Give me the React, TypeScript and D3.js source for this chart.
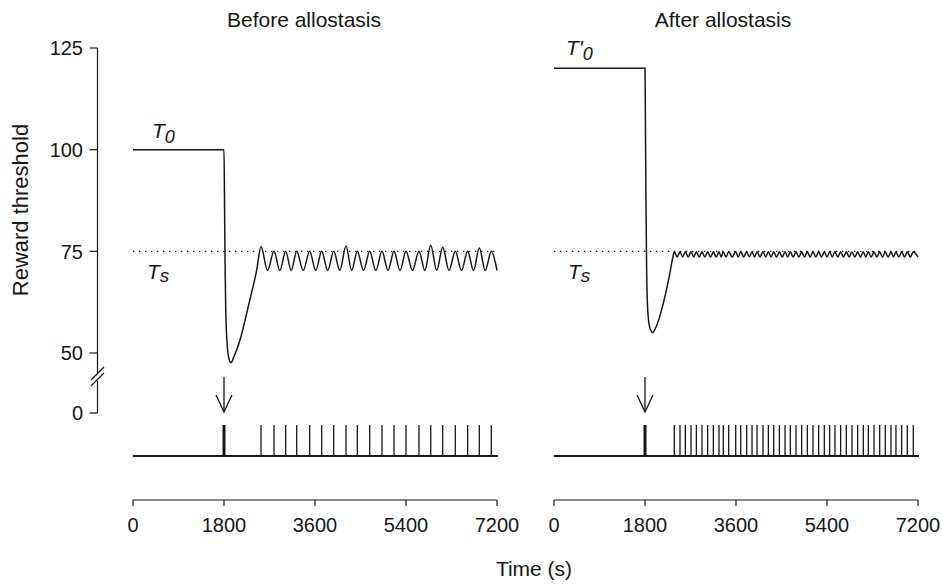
import React from 'react';
import * as d3 from 'd3';

// Reward threshold before / after allostasis
const timeTicks = [0, 1800, 3600, 5400, 7200];
const thresholdTicks = [50, 75, 100, 125];
const setPoint = 75;

// transient part of each curve: [time (s), threshold]
const beforeTransient: [number, number][] = [
  [0, 100], [1800, 100], [1810, 88], [1820, 73], [1834, 61], [1858, 53],
  [1898, 48.6], [1940, 47.6], [1990, 48.9], [2117, 53.2], [2300, 62.5], [2447, 70.4],
];
const afterTransient: [number, number][] = [
  [0, 120], [1800, 120], [1810, 104], [1820, 86], [1832, 71], [1852, 61],
  [1895, 56.2], [1951, 55], [2000, 55.9], [2162, 62.2], [2290, 69.5], [2345, 73.2],
];

// reward deliveries (spike train), first one is the priming reward at 1800 s
const beforeSpikes = [
  1800, 2532, 2789, 3020, 3238, 3495, 3733, 3970, 4213, 4437, 4682,
  4925, 5163, 5400, 5657, 5889, 6126, 6375, 6620, 6850, 7087,
];
const afterSpikes = [
  1800, 2380, 2492, 2598, 2710, 2816, 2927, 3040, 3152, 3264, 3349, 3455,
  3594, 3693, 3811, 3917, 4016, 4134, 4240, 4346, 4458, 4570, 4675, 4787,
  4899, 5011, 5123, 5235, 5347, 5452, 5558, 5670, 5782, 5894, 6006, 6118,
  6217, 6330, 6442, 6553, 6665, 6764, 6877, 6988, 7107,
];

// oscillation peaks after each later reward, and the trough level between
const beforePeaks = [
  76.2, 75, 75, 75, 75, 75, 75, 76.3, 75, 75,
  75, 75, 75, 75, 76.5, 76, 75, 75, 75.8, 75,
];
const beforeTrough = 70.3;
const afterPeak = 74.9;
const afterTrough = 73.6;

const FONT = "'Liberation Sans', Arial, Helvetica, sans-serif";
const INK = '#161616';

function buildCurve(transient, spikes, peaks, trough, end) {
  const pts = transient.slice();
  const later = spikes.slice(1);
  later.forEach((t, i) => {
    pts.push([t, peaks[i]]);
    const next = i < later.length - 1 ? (t + later[i + 1]) / 2 : end;
    pts.push([next, trough]);
  });
  return pts;
}

const y = d3.scaleLinear().domain([50, 125]).range([353, 48]);
const ZERO_Y = 413;
const SPIKE_BASE = 456;
const SPIKE_TOP = 425;
const AXIS_Y = 500;

const Panel = ({ x, curve, spikes, title, t0Label }) => {
  const line = d3.line<[number, number]>()
    .x(d => x(d[0]))
    .y(d => y(d[1]))
    .curve(d3.curveMonotoneX);
  const [x0, x1] = x.range();
  const ax = x(1800);
  return (
    <g>
      <text x={title.x} y={27} textAnchor="middle" fontSize={21} fill={INK}>{title.text}</text>
      {/* set point */}
      <line x1={x0} x2={x1} y1={y(setPoint)} y2={y(setPoint)} stroke={INK}
        strokeWidth={1.2} strokeDasharray="1.3 4.7" />
      <path d={line(curve) || ''} fill="none" stroke={INK} strokeWidth={1.5} />
      {/* labels */}
      <text x={t0Label.x} y={t0Label.y} fontSize={21} fontStyle="italic" fill={INK}>
        {t0Label.text}<tspan fontSize={18} dy={5}>0</tspan>
      </text>
      <text x={x0 + 14} y={279} fontSize={21} fontStyle="italic" fill={INK}>
        T<tspan fontSize={19} dy={3}>s</tspan>
      </text>
      {/* arrow */}
      <line x1={ax} x2={ax} y1={377} y2={411} stroke={INK} strokeWidth={1.3} />
      <path d={`M${ax - 8},${395} L${ax},${412} L${ax + 8},${395}`} fill="none" stroke={INK} strokeWidth={1.3} />
      {/* spike train */}
      <line x1={x0} x2={x1 + 1} y1={SPIKE_BASE} y2={SPIKE_BASE} stroke={INK} strokeWidth={2} />
      {spikes.map((t, i) => (
        <line key={i} x1={x(t)} x2={x(t)} y1={SPIKE_TOP} y2={SPIKE_BASE}
          stroke={INK} strokeWidth={i === 0 ? 3 : 1.3} />
      ))}
      {/* time axis */}
      <line x1={x0} x2={x1} y1={AXIS_Y} y2={AXIS_Y} stroke={INK} strokeWidth={1.2} />
      {timeTicks.map(t => (
        <g key={t}>
          <line x1={x(t)} x2={x(t)} y1={AXIS_Y} y2={AXIS_Y + 6} stroke={INK} strokeWidth={1.2} />
          <text x={x(t)} y={532} textAnchor="middle" fontSize={20} fill={INK}>{t}</text>
        </g>
      ))}
    </g>
  );
};

export default function App() {
  const xBefore = d3.scaleLinear().domain([0, 7200]).range([133, 497]);
  const xAfter = d3.scaleLinear().domain([0, 7200]).range([554, 918]);

  const beforeCurve = buildCurve(beforeTransient, beforeSpikes, beforePeaks, beforeTrough, 7200);
  const afterCurve = buildCurve(afterTransient, afterSpikes,
    afterSpikes.slice(1).map(() => afterPeak), afterTrough, 7200);

  const AX = 97.5;
  return (
    <svg width={942} height={586} style={{ position: 'absolute', left: 0, top: 0, background: '#fff' }}
      fontFamily={FONT}>
      {/* y axis with break */}
      <line x1={AX} x2={AX} y1={y(125)} y2={373} stroke={INK} strokeWidth={1.2} />
      <line x1={AX} x2={AX} y1={381} y2={ZERO_Y} stroke={INK} strokeWidth={1.2} />
      <line x1={91} x2={104} y1={380} y2={367} stroke={INK} strokeWidth={1.2} />
      <line x1={91} x2={104} y1={386} y2={373} stroke={INK} strokeWidth={1.2} />
      {thresholdTicks.map(v => (
        <g key={v}>
          <line x1={AX - 8} x2={AX} y1={y(v)} y2={y(v)} stroke={INK} strokeWidth={1.2} />
          <text x={83} y={y(v)} dy="0.36em" textAnchor="end" fontSize={20} fill={INK}>{v}</text>
        </g>
      ))}
      <line x1={AX - 8} x2={AX} y1={ZERO_Y} y2={ZERO_Y} stroke={INK} strokeWidth={1.2} />
      <text x={83} y={ZERO_Y} dy="0.36em" textAnchor="end" fontSize={20} fill={INK}>0</text>
      <text transform="rotate(-90)" x={-210} y={28} textAnchor="middle" fontSize={22} fill={INK}>
        Reward threshold
      </text>

      <Panel x={xBefore} curve={beforeCurve} spikes={beforeSpikes}
        title={{ text: 'Before allostasis', x: 304 }}
        t0Label={{ text: 'T', x: 152, y: 138 }} />
      <Panel x={xAfter} curve={afterCurve} spikes={afterSpikes}
        title={{ text: 'After allostasis', x: 723 }}
        t0Label={{ text: "T'", x: 566, y: 55 }} />

      <text x={534} y={576} textAnchor="middle" fontSize={21} fill={INK}>Time (s)</text>
    </svg>
  );
}
